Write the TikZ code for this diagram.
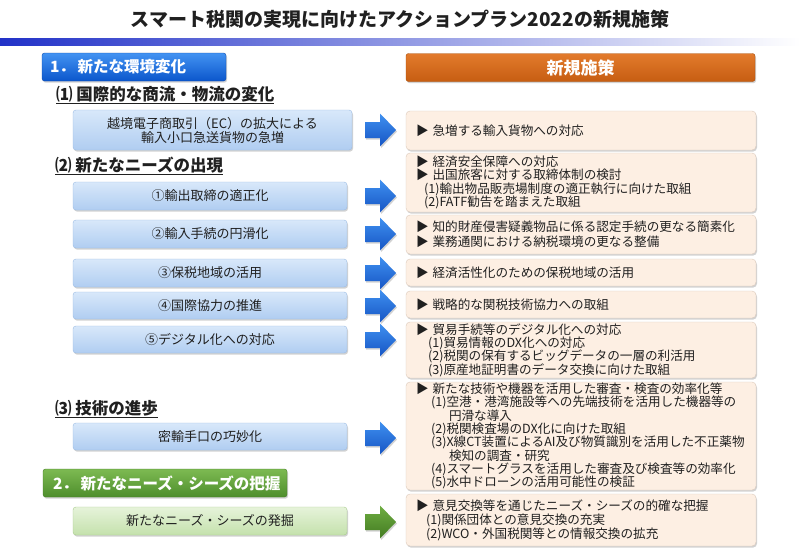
\documentclass[tikz,border=0pt]{standalone}
\usepackage{fontspec}
\setmainfont{Noto Sans CJK JP}
\usetikzlibrary{shadows}
\definecolor{txt}{HTML}{202020}
\definecolor{barL}{HTML}{2232C8}
\definecolor{barM}{HTML}{A8AEEE}
\definecolor{hbT}{HTML}{4393F2}
\definecolor{hbB}{HTML}{0B56CC}
\definecolor{hbD}{HTML}{0A4AAE}
\definecolor{hoT}{HTML}{E37B2C}
\definecolor{hoB}{HTML}{C65D12}
\definecolor{hoD}{HTML}{A84E0C}
\definecolor{hgT}{HTML}{7DBA52}
\definecolor{hgB}{HTML}{4E8E2C}
\definecolor{hgD}{HTML}{437A26}
\definecolor{lbT}{HTML}{D8E8FA}
\definecolor{lbB}{HTML}{B0CDF1}
\definecolor{lbD}{HTML}{9CBCE4}
\definecolor{lgT}{HTML}{E6F3DA}
\definecolor{lgB}{HTML}{C4E1AC}
\definecolor{lgD}{HTML}{A9CC8E}
\definecolor{rpF}{HTML}{FDEFE3}
\definecolor{rpD}{HTML}{DCCABC}
\definecolor{abT}{HTML}{3F90F0}
\definecolor{abB}{HTML}{1655C4}
\definecolor{agT}{HTML}{6FAE42}
\definecolor{agB}{HTML}{437B22}
\tikzset{
  shad/.style={drop shadow={shadow xshift=1pt,shadow yshift=-1.6pt,opacity=0.35}},
  hdr/.style={rectangle, rounded corners=2.5pt, shad, text=white,
    font=\fontsize{15.5}{17}\selectfont\bfseries, minimum height=28pt, inner ysep=0pt},
  lbox/.style={rectangle, rounded corners=3pt, draw=lbD, top color=lbT, bottom color=lbB,
    shad, text=txt, align=center, inner sep=0pt, minimum width=274pt,
    font=\fontsize{13}{14}\selectfont},
  gbox/.style={lbox, draw=lgD, top color=lgT, bottom color=lgB},
  rbox/.style={rectangle, rounded corners=4pt, draw=rpD, fill=rpF, shad, text=txt,
    align=left, inner xsep=10pt, inner ysep=0pt, text width=330pt, minimum width=350pt,
    font=\fontsize{12.6}{13.3}\selectfont},
  sect/.style={anchor=west, text=txt, inner sep=0pt, font=\fontsize{16.5}{18}\selectfont\bfseries},
  barrow/.style={top color=abT, bottom color=abB, shad},
  garrow/.style={top color=agT, bottom color=agB, shad}
}
\newcommand{\tri}{▶\hspace{4pt}}
\newcommand{\ind}[1]{\hspace*{#1}}
% block arrow: name, centre y, style
\newcommand{\blockarrow}[3]{%
  \coordinate (#1) at (365,#2);
  \path[#3] (#1) ++(0,-8) -- ++(15,0) -- ++(0,-8.5) -- ++(16,16.5)
    -- ++(-16,16.5) -- ++(0,-8.5) -- ++(-15,0) -- cycle;}
\begin{document}
\begin{tikzpicture}[x=1pt,y=-1pt]
\useasboundingbox (0,0) rectangle (800,554);
\fill[white] (0,0) rectangle (800,554);
% title and bar
\node[text=txt, font=\fontsize{19}{21}\selectfont\bfseries] (title) at (400,19)
  {スマート税関の実現に向けたアクションプラン2022の新規施策};
\shade[left color=barL, middle color=barM, right color=white] (0,38) rectangle (800,45);
% headers
\node[hdr, draw=hbD, top color=hbT, bottom color=hbB, minimum width=184pt,
  text width=168pt, inner xsep=8pt, align=left] (h1) at (134,67) {1．\,新たな環境変化};
\node[hdr, draw=hoD, top color=hoT, bottom color=hoB, minimum width=349pt,
  font=\fontsize{17}{19}\selectfont\bfseries] (h0) at (580.5,67.5) {新規施策};
\node[hdr, draw=hgD, top color=hgT, bottom color=hgB, minimum width=244pt,
  text width=224pt, inner xsep=10pt, align=left] (h2) at (165,483) {2．\,新たなニーズ・シーズの把握};
% section titles
\node[sect] (s1) at (56,95) {\underline{⑴ 国際的な商流・物流の変化}};
\node[sect] (s2) at (55,166) {\underline{⑵ 新たなニーズの出現}};
\node[sect] (s3) at (55,409) {\underline{⑶ 技術の進歩}};
% left boxes
\node[lbox, minimum width=279pt, minimum height=40pt] (l1) at (212.5,130) {越境電子商取引（EC）の拡大による\\輸入小口急送貨物の急増};
\node[lbox, minimum height=28pt] (l2) at (210,196) {①輸出取締の適正化};
\node[lbox, minimum height=28pt] (l3) at (210,234) {②輸入手続の円滑化};
\node[lbox, minimum height=28pt] (l4) at (210,273) {③保税地域の活用};
\node[lbox, minimum height=27pt] (l5) at (210,305.5) {④国際協力の推進};
\node[lbox, minimum height=27pt] (l6) at (210,339.5) {⑤デジタル化への対応};
\node[lbox, minimum height=27pt] (l7) at (210,436.5) {密輸手口の巧妙化};
\node[gbox, minimum height=28pt] (l8) at (210,521) {新たなニーズ・シーズの発掘};
% right boxes
\node[rbox, minimum height=39pt] (r1) at (581,130.5) {\tri 急増する輸入貨物への対応};
\node[rbox, minimum height=59pt] (r2) at (581,182.5) {\tri 経済安全保障への対応\\
  \tri 出国旅客に対する取締体制の検討\\
  \ind{8pt}(1)輸出物品販売場制度の適正執行に向けた取組\\
  \ind{8pt}(2)FATF勧告を踏まえた取組};
\node[rbox, minimum height=39pt, font=\fontsize{12.6}{15}\selectfont] (r3) at (581,234.5)
  {\tri 知的財産侵害疑義物品に係る認定手続の更なる簡素化\\
   \tri 業務通関における納税環境の更なる整備};
\node[rbox, minimum height=27pt] (r4) at (581,272.5) {\tri 経済活性化のための保税地域の活用};
\node[rbox, minimum height=27pt] (r5) at (581,304.5) {\tri 戦略的な関税技術協力への取組};
\node[rbox, minimum height=56pt] (r6) at (581,350) {\tri 貿易手続等のデジタル化への対応\\
  \ind{12pt}(1)貿易情報のDX化への対応\\
  \ind{12pt}(2)税関の保有するビッグデータの一層の利活用\\
  \ind{12pt}(3)原産地証明書のデータ交換に向けた取組};
\node[rbox, minimum height=108pt] (r7) at (581,436) {\tri 新たな技術や機器を活用した審査・検査の効率化等\\
  \ind{15pt}(1)空港・港湾施設等への先端技術を活用した機器等の\\
  \ind{33pt}円滑な導入\\
  \ind{15pt}(2)税関検査場のDX化に向けた取組\\
  \ind{15pt}(3)X線CT装置によるAI及び物質識別を活用した不正薬物\\
  \ind{33pt}検知の調査・研究\\
  \ind{15pt}(4)スマートグラスを活用した審査及び検査等の効率化\\
  \ind{15pt}(5)水中ドローンの活用可能性の検証};
\node[rbox, minimum height=52pt, font=\fontsize{12.6}{14}\selectfont] (r8) at (581,520) {\tri 意見交換等を通じたニーズ・シーズの的確な把握\\
  \ind{10pt}(1)関係団体との意見交換の充実\\
  \ind{10pt}(2)WCO・外国税関等との情報交換の拡充};
% arrows
\blockarrow{a1}{130}{barrow}
\blockarrow{a2}{196}{barrow}
\blockarrow{a3}{234}{barrow}
\blockarrow{a4}{273}{barrow}
\blockarrow{a5}{306}{barrow}
\blockarrow{a6}{340}{barrow}
\blockarrow{a7}{438}{barrow}
\blockarrow{a8}{522}{garrow}
\end{tikzpicture}
\end{document}
